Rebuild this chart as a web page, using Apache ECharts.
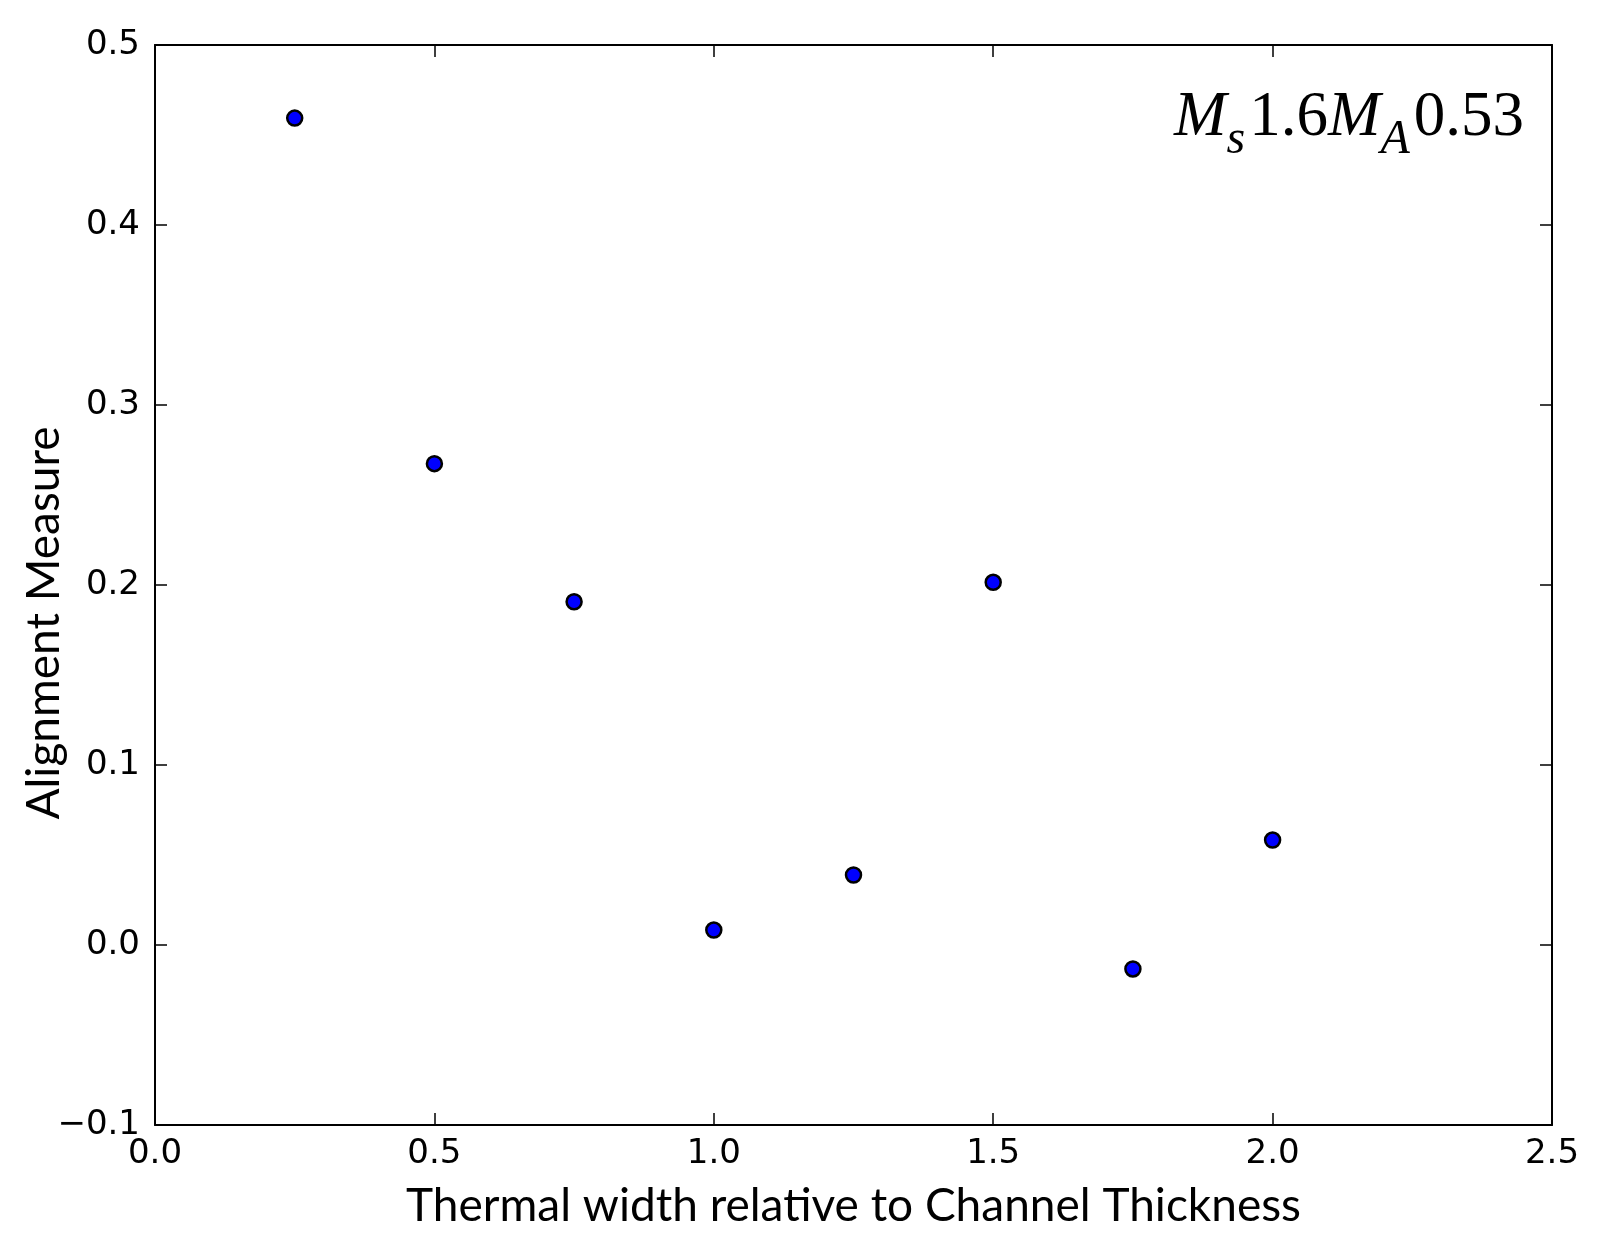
<!DOCTYPE html>
<html>
<head>
<meta charset="utf-8">
<script src="https://cdn.jsdelivr.net/npm/echarts@6/dist/echarts.min.js"></script>
<style>html,body{margin:0;padding:0;background:#fff}#c{width:1601px;height:1247px}</style>
</head>
<body>
<div id="c"></div>
<script>
const thermalWidth = [0.25, 0.5, 0.75, 1.0, 1.25, 1.5, 1.75, 2.0];
const alignment = [0.4594, 0.2674, 0.1907, 0.0083, 0.0389, 0.2015, -0.0133, 0.0583];
const xTicks = [0.0, 0.5, 1.0, 1.5, 2.0, 2.5];
const yTicks = [-0.1, 0.0, 0.1, 0.2, 0.3, 0.4, 0.5];
const xLabel = 'Thermal width relative to Channel Thickness';
const yLabel = 'Alignment Measure';

const chart = echarts.init(document.getElementById('c'), null, {renderer: 'canvas'});
const tickFont = {fontFamily: 'DejaVu Sans', fontSize: 34, color: '#000'};
const fmt = v => (v < 0 ? '\u2212' : '') + Math.abs(v).toFixed(1);
const axisCommon = {
  type: 'value',
  axisLine: {show: true, onZero: false, lineStyle: {color: '#000', width: 2}},
  axisTick: {show: true, inside: true, length: 12, lineStyle: {color: '#000', width: 1.5}},
  splitLine: {show: false}
};
chart.setOption({
  animation: false,
  backgroundColor: '#fff',
  grid: {left: 155, top: 45, right: 49, bottom: 122, containLabel: false, outerBoundsMode: 'none'},
  title: {
    right: 72, top: 82,
    text: '{m|M}{s|s}{n|1.6}{m|M}{s|A}{n|0.53}',
    textStyle: {
      fontWeight: 'normal',
      rich: {
        m: {fontFamily: 'Liberation Serif', fontStyle: 'italic', fontWeight: 'normal', fontSize: 63, lineHeight: 63, verticalAlign: 'top', color: '#000'},
        n: {fontFamily: 'Liberation Serif', fontWeight: 'normal', fontSize: 63, lineHeight: 63, verticalAlign: 'top', color: '#000'},
        s: {fontFamily: 'Liberation Serif', fontStyle: 'italic', fontWeight: 'normal', fontSize: 48, lineHeight: 48, padding: [29, 4, 0, 0], verticalAlign: 'top', color: '#000'}
      }
    }
  },
  xAxis: [
    Object.assign({}, axisCommon, {
      position: 'bottom', min: xTicks[0], max: xTicks[xTicks.length - 1], interval: 0.5,
      axisLabel: Object.assign({margin: 12, formatter: fmt}, tickFont),
      name: xLabel, nameLocation: 'middle', nameGap: 58, nameMoveOverlap: false,
      nameTextStyle: {fontFamily: 'Lato', fontSize: 46, color: '#000'}
    }),
    Object.assign({}, axisCommon, {
      position: 'top', min: xTicks[0], max: xTicks[xTicks.length - 1], interval: 0.5,
      axisLabel: {show: false}
    })
  ],
  yAxis: [
    Object.assign({}, axisCommon, {
      position: 'left', min: yTicks[0], max: yTicks[yTicks.length - 1], interval: 0.1,
      axisLabel: Object.assign({margin: 15, formatter: fmt}, tickFont),
      name: yLabel, nameLocation: 'middle', nameGap: 88, nameRotate: 90, nameMoveOverlap: false,
      nameTextStyle: {fontFamily: 'Lato', fontSize: 46, color: '#000', padding: [0, 76, 0, 0]}
    }),
    Object.assign({}, axisCommon, {
      position: 'right', min: yTicks[0], max: yTicks[yTicks.length - 1], interval: 0.1,
      axisLabel: {show: false}
    })
  ],
  series: [{
    type: 'scatter',
    xAxisIndex: 0, yAxisIndex: 0,
    symbol: 'circle', symbolSize: 15,
    itemStyle: {color: '#0000ff', borderColor: '#000', borderWidth: 2.5, opacity: 1},
    data: thermalWidth.map((x, i) => [x, alignment[i]])
  }]
});
</script>
</body>
</html>
